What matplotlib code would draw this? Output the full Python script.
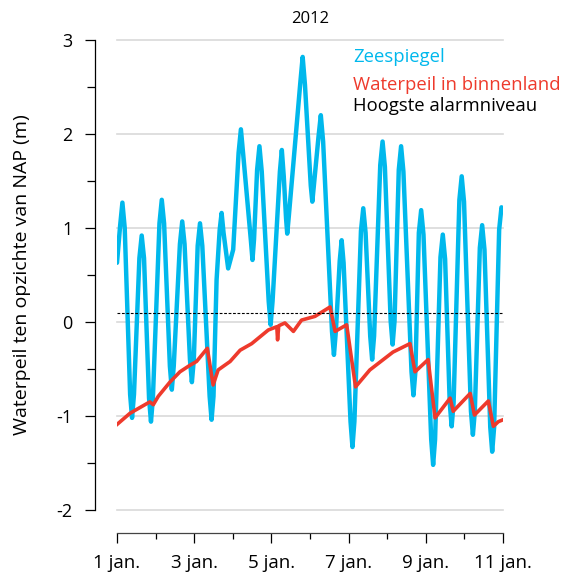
# -*- coding:utf-8 -*-
import numpy as np
import matplotlib.pyplot as plt
from matplotlib.ticker import MultipleLocator, FixedLocator

plt.rcParams["font.family"] = ["Open Sans", "DejaVu Sans"]
plt.rcParams["axes.unicode_minus"] = False

# tijd in dagen vanaf 1 jan. 2012 00:00
zee_t = [0.00, 0.08, 0.14, 0.20, 0.34, 0.39, 0.44, 0.58, 0.64, 0.70,
         0.83, 0.88, 0.93, 1.10, 1.16, 1.22, 1.37, 1.42, 1.47, 1.63,
         1.69, 1.75, 1.89, 1.94, 1.99, 2.09, 2.15, 2.21, 2.40, 2.45,
         2.50, 2.58, 2.66, 2.71, 2.76, 2.88, 3.01, 3.15, 3.21, 3.27,
         3.47, 3.51, 3.55, 3.63, 3.69, 3.75, 3.93, 3.98, 4.03, 4.22,
         4.27, 4.32, 4.38, 4.41, 4.45, 4.57, 4.75, 4.81, 4.87, 5.02,
         5.06, 5.10, 5.22, 5.28, 5.34, 5.57, 5.62, 5.67, 5.77, 5.82,
         5.87, 6.05, 6.10, 6.15, 6.32, 6.38, 6.44, 6.56, 6.61, 6.66,
         6.82, 6.88, 6.94, 7.09, 7.14, 7.19, 7.30, 7.36, 7.42, 7.63,
         7.68, 7.73, 7.82, 7.88, 7.94, 8.14, 8.19, 8.24, 8.38, 8.44,
         8.50, 8.62, 8.67, 8.72, 8.87, 8.93, 8.99, 9.17, 9.22, 9.27,
         9.40, 9.46, 9.52, 9.67, 9.72, 9.77, 9.90, 9.96, 10.00]
zee_h = [0.63, 1.02, 1.27, 1.00, -0.77, -1.02, -0.77, 0.68, 0.92, 0.68,
         -0.81, -1.06, -0.81, 1.05, 1.30, 1.05, -0.47, -0.72, -0.47, 0.83,
         1.07, 0.83, -0.40, -0.64, -0.40, 0.81, 1.05, 0.81, -0.79, -1.04,
         -0.79, 0.45, 0.98, 1.16, 0.95, 0.57, 0.77, 1.80, 2.05, 1.78,
         0.86, 0.66, 0.88, 1.62, 1.87, 1.60, 0.22, -0.03, 0.22, 1.60,
         1.83, 1.55, 1.10, 0.94, 1.12, 1.69, 2.55, 2.82, 2.52, 1.45,
         1.28, 1.45, 1.97, 2.20, 1.92, -0.10, -0.35, -0.10, 0.65, 0.87,
         0.63, -1.06, -1.33, -1.06, 0.97, 1.21, 0.95, -0.15, -0.40, -0.15,
         1.67, 1.92, 1.65, 0.01, -0.24, 0.01, 1.62, 1.87, 1.60, -0.53,
         -0.78, -0.53, 0.95, 1.19, 0.93, -1.25, -1.52, -1.25, 0.69, 0.93,
         0.67, -0.86, -1.11, -0.86, 1.30, 1.55, 1.28, -0.95, -1.20, -0.95,
         0.79, 1.03, 0.77, -1.12, -1.38, -1.12, 0.98, 1.22, 1.18]

binnen_t = [0.00, 0.34, 0.85, 0.94, 1.07, 1.37, 1.63, 1.89, 2.06, 2.34,
            2.49, 2.62, 2.93, 3.19, 3.49, 3.92, 4.14, 4.16, 4.19, 4.35,
            4.57, 4.78, 5.13, 5.52, 5.65, 5.95, 6.18, 6.55, 7.15, 7.59,
            7.72, 8.06, 8.24, 8.63, 8.71, 9.15, 9.26, 9.62, 9.75, 9.88,
            10.00]
binnen_h = [-1.09, -0.97, -0.85, -0.88, -0.79, -0.64, -0.53, -0.46, -0.42, -0.28,
            -0.67, -0.51, -0.42, -0.30, -0.23, -0.085, -0.05, -0.19, -0.04, -0.01,
            -0.10, 0.02, 0.06, 0.16, -0.10, -0.03, -0.69, -0.51, -0.32, -0.23,
            -0.53, -0.40, -1.02, -0.81, -0.95, -0.76, -0.99, -0.84, -1.11, -1.06,
            -1.04]

alarmniveau = 0.1

dag_ticks = [0, 2, 4, 6, 8, 10]
dag_labels = ["1 jan.", "3 jan.", "5 jan.", "7 jan.", "9 jan.", "11 jan."]

kleur_zee = "#00b8ec"
kleur_binnen = "#ee3a2c"

fig = plt.figure(figsize=(5.63, 5.76), dpi=100)
ax = fig.add_axes([117 / 563, 1 - 510 / 576, 386 / 563, 470 / 576])

# horizontale rasterlijnen
for yv in range(-2, 4):
    ax.axhline(yv, color="#d9d9d9", linewidth=1.2, zorder=0, clip_on=False)

ax.plot(zee_t, zee_h, color=kleur_zee, linewidth=3.2,
        solid_joinstyle="round", solid_capstyle="round", zorder=2)
ax.plot(binnen_t, binnen_h, color=kleur_binnen, linewidth=2.6,
        solid_joinstyle="round", zorder=3)
ax.axhline(alarmniveau, color="black", linewidth=0.8,
           linestyle=(0, (2.5, 1.5)), zorder=4)

ax.set_xlim(0, 10)
ax.set_ylim(-2, 3)

for s in ["top", "right"]:
    ax.spines[s].set_visible(False)
ax.spines["left"].set_position(("outward", 16))
ax.spines["bottom"].set_position(("outward", 16.5))
ax.spines["left"].set_linewidth(0.9)
ax.spines["bottom"].set_linewidth(0.9)
ax.spines["bottom"].set_color("#444444")

ax.xaxis.set_major_locator(FixedLocator(dag_ticks))
ax.set_xticklabels(dag_labels)
ax.xaxis.set_minor_locator(MultipleLocator(1))
ax.yaxis.set_major_locator(MultipleLocator(1))
ax.yaxis.set_minor_locator(MultipleLocator(0.5))
ax.tick_params(axis="x", which="major", length=7.5, width=0.9,
               labelsize=13.5, pad=8)
ax.tick_params(axis="x", which="minor", length=4.2, width=0.9)
ax.tick_params(axis="y", which="major", length=7.2, width=0.9,
               labelsize=13, pad=9)
ax.tick_params(axis="y", which="minor", length=5.5, width=0.9)

ax.set_title("2012", fontsize=12, pad=12)

fig.text(22 / 563, 1 - 275 / 576, "Waterpeil ten opzichte van NAP (m)",
         rotation=90, ha="center", va="center", fontsize=14)

leg_y = [57, 85, 106]
leg_txt = ["Zeespiegel", "Waterpeil in binnenland", "Hoogste alarmniveau"]
leg_kleur = [kleur_zee, kleur_binnen, "black"]
for yy, tt, kk in zip(leg_y, leg_txt, leg_kleur):
    fig.text(353 / 563, 1 - yy / 576, tt, color=kk, fontsize=13.3,
             ha="left", va="center")

plt.savefig("out.png", dpi=100)
plt.close()
